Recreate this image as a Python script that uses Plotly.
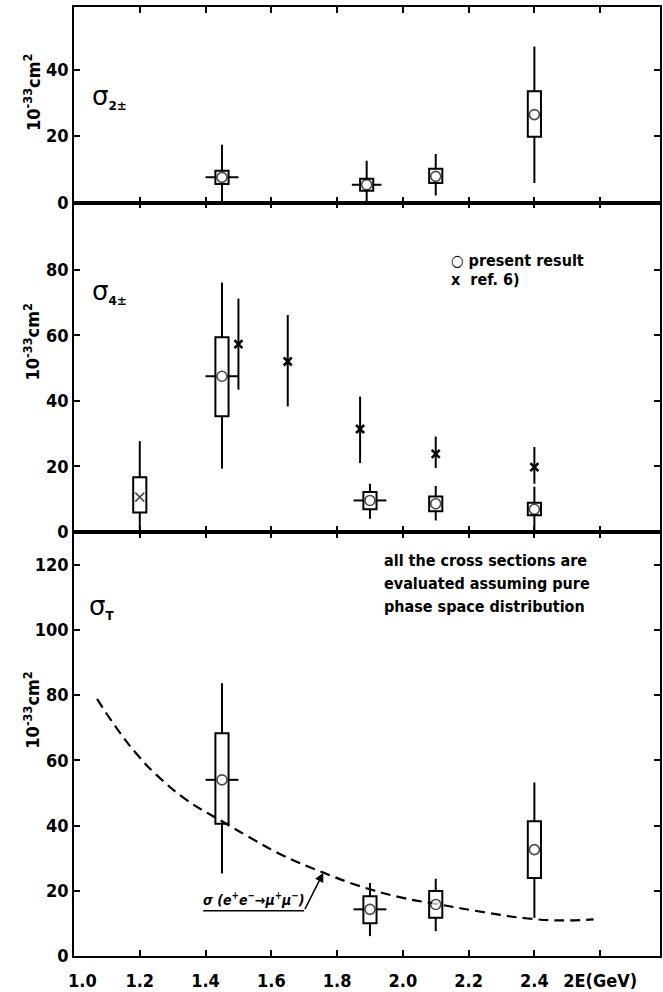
import plotly.graph_objects as go
from plotly.subplots import make_subplots

# ---------------- data ----------------
# sigma 2± (present result)
s2_x = [1.45, 1.89, 2.10, 2.40]
s2_y = [7.6, 5.4, 7.9, 26.5]
s2_box_lo = [5.6, 3.6, 5.9, 19.8]
s2_box_hi = [9.6, 7.2, 10.2, 33.5]
s2_err_lo = [0.0, 0.0, 2.1, 5.9]
s2_err_hi = [17.4, 12.6, 14.6, 47.0]
s2_dx = [0.05, 0.045, 0.0, 0.0]

# sigma 4± (present result)
s4_x = [1.20, 1.45, 1.90, 2.10, 2.40]
s4_y = [10.6, 47.5, 9.6, 8.6, 6.9]
s4_box_lo = [5.9, 35.3, 6.9, 6.3, 5.1]
s4_box_hi = [16.7, 59.4, 12.2, 10.8, 8.9]
s4_err_lo = [0.0, 19.3, 4.0, 3.5, 0.0]
s4_err_hi = [27.7, 76.1, 14.7, 14.0, 13.8]
s4_dx = [0.0, 0.05, 0.05, 0.0, 0.0]
s4_symbol = ["x-thin", "circle", "circle", "circle", "circle"]

# sigma 4± (ref. 6)
r6_x = [1.50, 1.65, 1.87, 2.10, 2.40]
r6_y = [57.3, 52.0, 31.4, 23.8, 19.8]
r6_lo = [43.4, 38.3, 21.0, 19.5, 14.7]
r6_hi = [71.2, 66.2, 41.3, 29.1, 25.9]

# sigma T (present result)
sT_x = [1.45, 1.90, 2.10, 2.40]
sT_y = [54.0, 14.3, 15.8, 32.6]
sT_box_lo = [40.5, 10.0, 11.7, 23.9]
sT_box_hi = [68.3, 18.3, 19.9, 41.3]
sT_err_lo = [25.3, 6.1, 7.6, 11.7]
sT_err_hi = [83.6, 22.4, 23.7, 53.2]
sT_dx = [0.05, 0.05, 0.0, 0.0]

# sigma(e+e- -> mu+mu-) dashed curve
mu_x = [1.07, 1.13, 1.19, 1.25, 1.34, 1.41, 1.45, 1.53, 1.64, 1.76, 1.87, 2.00, 2.10, 2.26, 2.38, 2.48, 2.58]
mu_y = [78.8, 69.8, 62.0, 55.6, 48.0, 43.6, 41.3, 36.6, 30.6, 25.5, 21.4, 17.8, 16.0, 13.2, 11.5, 10.9, 11.2]

x_ticks = [1.0, 1.2, 1.4, 1.6, 1.8, 2.0, 2.2, 2.4, 2.6]
x_ticktext = ["\u00a0\u00a0\u00a01.0", "1.2", "1.4", "1.6", "1.8", "2.0", "2.2", "2.4", "2E(GeV)"]

# ---------------- style ----------------
FONT = ("Liberation Sans Narrow, DejaVu Sans Condensed, Noto Sans Condensed, Roboto Condensed, "
        "Arial Narrow, Liberation Sans, sans-serif")
BOXW = 0.04
LW = 2

fig = make_subplots(rows=3, cols=1, row_heights=[196, 330, 425], vertical_spacing=0)


def whiskers(xs, lo, blo, bhi, hi):
    X, Y = [], []
    for x, a, b, c, d in zip(xs, lo, blo, bhi, hi):
        if b > a:
            X += [x, x, None]
            Y += [a, b, None]
        if d > c:
            X += [x, x, None]
            Y += [c, d, None]
    return X, Y


def hbars(xs, ys, dxs):
    X, Y = [], []
    for x, y, dx in zip(xs, ys, dxs):
        if dx > 0:
            X += [x - dx, x - BOXW / 2, None, x + BOXW / 2, x + dx, None]
            Y += [y, y, None, y, y, None]
    return X, Y


def add_series(row, xs, ys, blo, bhi, lo, hi, dxs, symbols):
    wx, wy = whiskers(xs, lo, blo, bhi, hi)
    fig.add_trace(go.Scatter(x=wx, y=wy, mode="lines", line=dict(color="black", width=LW),
                             hoverinfo="skip", showlegend=False), row=row, col=1)
    hx, hy = hbars(xs, ys, dxs)
    if hx:
        fig.add_trace(go.Scatter(x=hx, y=hy, mode="lines", line=dict(color="black", width=LW),
                                 hoverinfo="skip", showlegend=False), row=row, col=1)
    fig.add_trace(go.Bar(x=xs, y=[h - l for h, l in zip(bhi, blo)], base=blo, width=BOXW,
                         marker=dict(color="white", line=dict(color="black", width=LW)),
                         showlegend=False), row=row, col=1)
    sizes = [9 if s.startswith("x") else 10 for s in symbols]
    fig.add_trace(go.Scatter(x=xs, y=ys, mode="markers",
                             marker=dict(symbol=symbols, size=sizes, color="white",
                                         line=dict(color="black", width=1.6)),
                             showlegend=False), row=row, col=1)


add_series(1, s2_x, s2_y, s2_box_lo, s2_box_hi, s2_err_lo, s2_err_hi, s2_dx, ["circle"] * len(s2_x))
add_series(2, s4_x, s4_y, s4_box_lo, s4_box_hi, s4_err_lo, s4_err_hi, s4_dx, s4_symbol)

# ref. 6 points
rx, ry = [], []
for x, a, b in zip(r6_x, r6_lo, r6_hi):
    rx += [x, x, None]
    ry += [a, b, None]
fig.add_trace(go.Scatter(x=rx, y=ry, mode="lines", line=dict(color="black", width=LW),
                         hoverinfo="skip", showlegend=False), row=2, col=1)
fig.add_trace(go.Scatter(x=r6_x, y=r6_y, mode="markers",
                         marker=dict(symbol="x-thin", size=8, line=dict(color="black", width=2.5)),
                         showlegend=False), row=2, col=1)

# mu-pair curve
fig.add_trace(go.Scatter(x=mu_x, y=mu_y, mode="lines",
                         line=dict(color="black", width=2.2, dash="10px,6px", shape="spline", smoothing=1.3),
                         showlegend=False), row=3, col=1)
add_series(3, sT_x, sT_y, sT_box_lo, sT_box_hi, sT_err_lo, sT_err_hi, sT_dx, ["circle"] * len(sT_x))

# ---------------- axes ----------------
axis_common = dict(showline=True, linewidth=1.5, linecolor="black", mirror="ticks",
                   ticks="inside", ticklen=6, tickwidth=2, tickcolor="black",
                   showgrid=False, zeroline=False)
tickfont = dict(family=FONT, size=18, color="black", weight="bold")

for r in (1, 2, 3):
    fig.update_xaxes(range=[1.0, 2.782], tickvals=x_ticks, ticktext=x_ticktext,
                     showticklabels=(r == 3), tickfont=tickfont, ticklabelstandoff=8,
                     row=r, col=1, **axis_common)

fig.update_yaxes(range=[0, 58.9], tickvals=[0, 20, 40], row=1, col=1, tickfont=tickfont, **axis_common)
fig.update_yaxes(range=[0, 100.5], tickvals=[0, 20, 40, 60, 80], row=2, col=1, tickfont=tickfont, **axis_common)
fig.update_yaxes(range=[0, 130], tickvals=[0, 20, 40, 60, 80, 100, 120], row=3, col=1, tickfont=tickfont,
                 **axis_common)

# ---------------- annotations ----------------
ann = []
unit = "10<sup>-33</sup>cm<sup>2</sup>"
for yp in (0.9096, 0.6467, 0.2587):
    ann.append(dict(text=unit, xref="paper", yref="paper", x=-0.0714, y=yp, textangle=-90,
                    xanchor="center", yanchor="middle", showarrow=False,
                    font=dict(family=FONT, size=18, color="black", weight="bold")))

sig_font = dict(family="DejaVu Sans, sans-serif", size=26, color="black")
for lbl, xr, yr, xv, yv in [("2±", "x", "y", 1.05, 31.7), ("4±", "x2", "y2", 1.05, 73.2),
                            ("T", "x3", "y3", 1.04, 107.1)]:
    ann.append(dict(text="σ<sub><span style='font-size:12px'><b>" + lbl + "</b></span></sub>",
                    xref=xr, yref=yr, x=xv, y=yv, xanchor="left", showarrow=False, font=sig_font))

txt_font = dict(family=FONT, size=16, color="black", weight="bold")
ann.append(dict(text="○ present result", xref="x2", yref="y2", x=2.141, y=82.9, xanchor="left",
                showarrow=False, font=txt_font))
ann.append(dict(text="x  ref. 6)", xref="x2", yref="y2", x=2.141, y=76.9, xanchor="left",
                showarrow=False, font=txt_font))

for i, line in enumerate(["all the cross sections are", "evaluated assuming pure",
                          "phase space distribution"]):
    ann.append(dict(text=line, xref="x3", yref="y3", x=1.937, y=121.3 - i * 7.1, xanchor="left",
                    showarrow=False, font=txt_font))

ann.append(dict(text="<i>σ (e<sup>+</sup>e<sup>−</sup>→μ<sup>+</sup>μ<sup>−</sup>)</i>", xref="x3", yref="y3",
                x=1.386, y=17.6, xanchor="left", showarrow=False,
                font=dict(family=FONT, size=14, color="black", weight="bold")))
ann.append(dict(text="", xref="x3", yref="y3", x=1.758, y=25.5, axref="x3", ayref="y3",
                ax=1.70, ay=13.9, showarrow=True, arrowhead=2, arrowsize=1.2, arrowwidth=1.5,
                arrowcolor="black"))

fig.update_layout(
    width=663, height=992,
    margin=dict(l=74, r=1, t=7, b=34),
    paper_bgcolor="white", plot_bgcolor="white",
    barmode="overlay", showlegend=False,
    annotations=ann,
    shapes=[dict(type="line", xref="x3", yref="y3", x0=1.393, x1=1.70, y0=13.9, y1=13.9,
                 line=dict(color="black", width=1.5))],
)

fig.write_html("out.html", config={"displayModeBar": False},
               post_script="document.body.style.margin='0';document.body.style.overflow='hidden';")
